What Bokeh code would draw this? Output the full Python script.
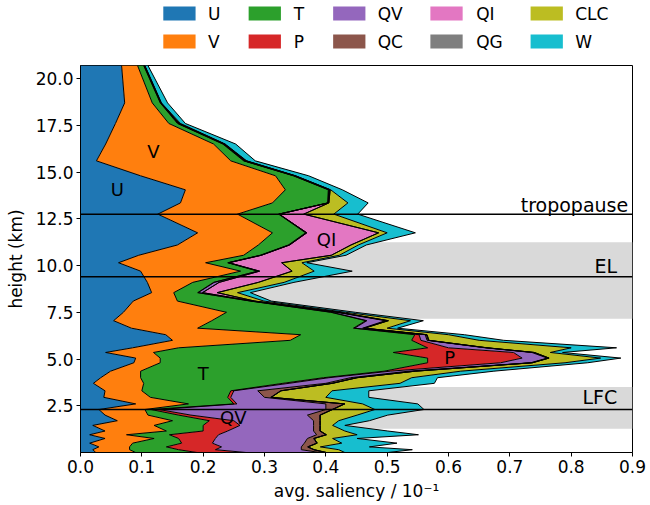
from bokeh.plotting import figure
from bokeh.models import (ColumnDataSource, FixedTicker, Range1d, Label, BoxAnnotation,
                          Span, PrintfTickFormatter)
from bokeh.layouts import column
from bokeh.embed import file_html
from bokeh.resources import INLINE

FONT = "DejaVu Sans"

# ---------------- data ----------------
names = ["U", "V", "T", "P", "QV", "QC", "QI", "QG", "CLC", "W"]
colors = ["#1f77b4", "#ff7f0e", "#2ca02c", "#d62728", "#9467bd",
          "#8c564b", "#e377c2", "#7f7f7f", "#bcbd22", "#17becf"]

height_km = [20.7, 18.7, 17.6, 16.5, 15.6, 14.8, 14.05, 13.35, 12.75, 11.75,
             11.1, 10.55, 10.15, 9.7, 9.1, 8.55, 8.1, 7.5, 7.05, 6.65,
             6.3, 6.0, 5.6, 5.35, 5.05, 4.8, 4.35, 4.0, 3.7, 3.3,
             2.95, 2.6, 2.3, 2.0, 1.7, 1.45, 1.15, 0.95, 0.75, 0.5,
             0.3, 0.15, 0.0]

U = [.067, .072, .057, .041, .026, .098, .171, .163, .126, .191,
     .158, .095, .062, .098, .109, .116, .086, .070, .054, .083,
     .139, .150, .085, .041, .090, .087, .049, .033, .021, .040,
     .038, .090, .030, .040, .060, .020, .040, .015, .040, .015,
     .030, .020, .025]
V = [.026, .045, .087, .176, .219, .220, .163, .150, .130, .122,
     .132, .171, .142, .163, .074, .036, .072, .168, .160, .108,
     .220, .192, .075, .078, .040, .043, .049, .065, .082, .060,
     .076, .086, .075, .070, .090, .100, .100, .060, .080, .070,
     .050, .060, .065]
T = [.010, .013, .014, .015, .021, .029, .070, .090, .067, .054,
     .049, .027, .036, .028, .034, .039, .119, .170, .251, .254,
     .186, .198, .406, .391, .436, .436, .397, .298, .227, .145,
     .126, .074, .010, .050, .060, .080, .060, .070, .040, .080,
     .060, .080, .100]
P = [.0005, .0005, .001, .001, .001, .001, .001, .0005, .0005, .001,
     .001, .001, .001, .001, .001, .001, .001, .002, .002, .002,
     .007, .015, .034, .196, .154, .119, .010, .009, .010, .005,
     .005, .005, .013, .020, .040, .060, .040, .080, .060, .050,
     .090, .060, .080]
QV = [.0005, .0005, .001, .001, .001, .001, .001, .0005, .0005, .001,
      .001, .001, .001, .002, .008, .007, .003, .008, .030, .013,
      .010, .010, .060, .030, .041, .049, .030, .035, .060, .039,
      .055, .145, .272, .190, .130, .120, .140, .160, .150, .150,
      .130, .140, .120]
QC = [0, 0, 0, 0, 0, 0, 0, 0, 0, 0,
      0, 0, 0, 0, 0, 0, 0, .002, .003, .002,
      .002, .002, .002, .003, .002, .002, .010, .010, .010, .037,
      .010, .030, .010, .020, .010, .010, .010, .015, .010, .020,
      .010, .020, .010]
QI = [.0005, .0005, .001, .001, .002, .001, .001, .001, .040, .117,
      .100, .114, .086, .053, .064, .024, .003, .002, .002, .001,
      .001, .001, .001, .001, .001, .001, .001, .001, .001, .001,
      .001, .001, .001, .001, .001, .001, .001, .001, .001, .001,
      .001, .001, .001]
QG = [0] * 43
CLC = [.0005, .0005, .002, .001, .001, .001, .001, .031, .049, .014,
       .012, .013, .033, .036, .042, .033, .015, .010, .036, .037,
       .035, .082, .137, .026, .084, .053, .074, .089, .110, .083,
       .089, .029, .069, .060, .030, .020, .040, .050, .030, .040,
       .020, .040, .030]
W = [.005, .010, .008, .017, .014, .021, .019, .033, .039, .046,
     .013, .011, .008, .062, .016, .021, .012, .016, .021, .017,
     .026, .040, .074, .020, .033, .037, .054, .042, .056, .060,
     .070, .090, .080, .050, .050, .020, .070, .100, .040, .090,
     .080, .120, .070]

x_ticks = [0.0, 0.1, 0.2, 0.3, 0.4, 0.5, 0.6, 0.7, 0.8, 0.9]
y_ticks = [2.5, 5.0, 7.5, 10.0, 12.5, 15.0, 17.5, 20.0]

levels = {"tropopause": 12.75, "EL": 9.4, "LFC": 2.3}
bands = [(7.15, 11.25), (1.27, 3.5)]

src = ColumnDataSource(dict(y=height_km, U=U, V=V, T=T, P=P, QV=QV, QC=QC,
                            QI=QI, QG=QG, CLC=CLC, W=W))

# ---------------- main plot ----------------
p = figure(width=650, height=445, x_range=Range1d(0, 0.9), y_range=Range1d(0, 20.7),
           output_backend="svg", toolbar_location=None,
           min_border_left=80, min_border_right=18, min_border_top=5,
           min_border_bottom=53)
p.grid.visible = False
p.outline_line_color = "black"
p.outline_line_width = 1
p.background_fill_color = "white"
p.border_fill_color = "white"

for lo, hi in bands:
    p.add_layout(BoxAnnotation(bottom=lo, top=hi, fill_color="#d9d9d9", fill_alpha=1.0,
                               line_alpha=0, level="underlay"))

p.harea_stack(stackers=names, y="y", color=colors, source=src)
p.hline_stack(stackers=names, y="y", color="black", line_width=1, source=src)

for name, lev in levels.items():
    p.add_layout(Span(location=lev, dimension="width", line_color="black", line_width=1.5))

ann = [("tropopause", 0.893, 13.25), ("EL", 0.875, 10.0), ("LFC", 0.875, 2.95)]
for t, x, y in ann:
    p.add_layout(Label(x=x, y=y, text=t, text_align="right", text_baseline="alphabetic",
                       text_font=FONT, text_font_size="19px", text_color="black"))

inner = [("U", 0.060, 14.05), ("V", 0.119, 16.1), ("T", 0.200, 4.2),
         ("P", 0.602, 5.07), ("QV", 0.249, 1.86), ("QI", 0.401, 11.38)]
for t, x, y in inner:
    p.add_layout(Label(x=x, y=y, text=t, text_align="center", text_baseline="middle",
                       text_font=FONT, text_font_size="18px", text_color="black"))

for ax in (p.xaxis, p.yaxis):
    ax.major_label_text_font = FONT
    ax.major_label_text_font_size = "17px"
    ax.major_label_text_color = "black"
    ax.axis_label_text_font = FONT
    ax.axis_label_text_font_size = "17px"
    ax.axis_label_text_font_style = "normal"
    ax.axis_label_text_color = "black"
    ax.major_tick_out = 4
    ax.major_tick_in = 0
    ax.minor_tick_out = 0
    ax.minor_tick_in = 0
    ax.axis_line_color = "black"
    ax.major_tick_line_color = "black"
    ax.formatter = PrintfTickFormatter(format="%.1f")

p.xaxis.ticker = FixedTicker(ticks=x_ticks)
p.yaxis.ticker = FixedTicker(ticks=y_ticks)
p.xaxis.axis_label = "avg. saliency / 10\u207b\u00b9"
p.yaxis.axis_label = "height (km)"
p.xaxis.major_label_standoff = 3
p.yaxis.major_label_standoff = 3
p.xaxis.axis_label_standoff = 5
p.yaxis.axis_label_standoff = 7

# ---------------- legend (separate strip above) ----------------
lg = figure(width=650, height=60, x_range=Range1d(0, 650), y_range=Range1d(60, 0),
            output_backend="svg", toolbar_location=None,
            min_border_left=0, min_border_right=0, min_border_top=0, min_border_bottom=0)
lg.axis.visible = False
lg.grid.visible = False
lg.outline_line_color = None

col_patch = [97.5, 198, 297.5, 412, 530]
col_text = [150, 251, 350, 466, 582.5]
row_y = [13, 41]
for i, (nm, c) in enumerate(zip(names, colors)):
    ci, ri = i // 2, i % 2
    lg.quad(left=[col_patch[ci]], right=[col_patch[ci] + 38],
            top=[row_y[ri] - 7], bottom=[row_y[ri] + 7], fill_color=c, line_color=None)
    lg.add_layout(Label(x=col_text[ci], y=row_y[ri], text=nm, text_align="left",
                        text_baseline="middle", text_font=FONT, text_font_size="17px",
                        text_color="black"))

layout = column(lg, p, spacing=0)
open("out.html", "w").write(file_html(layout, INLINE))
